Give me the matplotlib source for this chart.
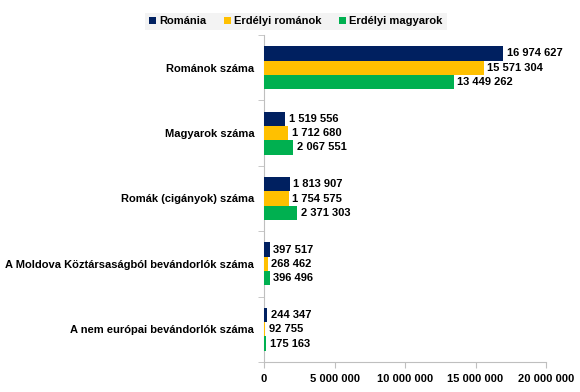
import numpy as np
import matplotlib.pyplot as plt
from matplotlib.ticker import FuncFormatter

plt.rcParams['font.family'] = ['Liberation Sans', 'DejaVu Sans']

categories = ['Románok száma', 'Magyarok száma', 'Romák (cigányok) száma',
              'A Moldova Köztársaságból bevándorlók száma',
              'A nem európai bevándorlók száma']
series_names = ['Románia', 'Erdélyi románok', 'Erdélyi magyarok']
romania = [16974627, 1519556, 1813907, 397517, 244347]
erdelyi_romanok = [15571304, 1712680, 1754575, 268462, 92755]
erdelyi_magyarok = [13449262, 2067551, 2371303, 396496, 175163]
colors = ['#002060', '#FFC000', '#00B050']


def fmt(v):
    return f'{int(v):,}'.replace(',', ' ')


fs = 8
fig = plt.figure(figsize=(5.8, 3.92), dpi=100)
ax = fig.add_axes([264 / 580, 1 - 362 / 392, (546 - 264) / 580, (362 - 35) / 392])

y = np.arange(len(categories))
h = 0.22
for i, (vals, name, c) in enumerate(zip([romania, erdelyi_romanok, erdelyi_magyarok],
                                         series_names, colors)):
    pos = y + (i - 1) * h
    ax.barh(pos, vals, height=h, color=c, label=name, zorder=3)
    for p, v in zip(pos, vals):
        ax.text(v + 250000, p, fmt(v), va='center', ha='left',
                fontsize=fs, fontweight='bold', color='#000000')

ax.set_xlim(0, 20000000)
ax.set_ylim(len(categories) - 0.5, -0.5)
ax.set_xticks([0, 5000000, 10000000, 15000000, 20000000])
ax.xaxis.set_major_formatter(FuncFormatter(lambda v, _: fmt(v)))
ax.set_yticks(y)
ax.set_yticklabels(categories, fontsize=fs, fontweight='bold')
ax.set_yticks(np.arange(-0.5, len(categories)), minor=True)
ax.tick_params(axis='y', which='major', length=0, pad=7)
ax.tick_params(axis='y', which='minor', length=4, color='#bfbfbf', direction='out')
ax.tick_params(axis='x', length=4, color='#bfbfbf', labelsize=fs, pad=5)
for lab in ax.get_xticklabels():
    lab.set_fontweight('bold')

for s in ['top', 'right']:
    ax.spines[s].set_visible(False)
for s in ['left', 'bottom']:
    ax.spines[s].set_color('#bfbfbf')

leg = fig.legend(loc='upper center', bbox_to_anchor=(296 / 580, 1 - 7 / 392), ncol=3,
                 frameon=True, handlelength=0.6, handleheight=0.6,
                 handletextpad=0.3, columnspacing=1.6, borderpad=0.35,
                 prop={'weight': 'bold', 'size': fs})
leg.get_frame().set_facecolor('#f0f0f0')
leg.get_frame().set_edgecolor('none')
leg.get_frame().set_boxstyle('square', pad=0)

fig.savefig('out.png', dpi=100, facecolor='white')
